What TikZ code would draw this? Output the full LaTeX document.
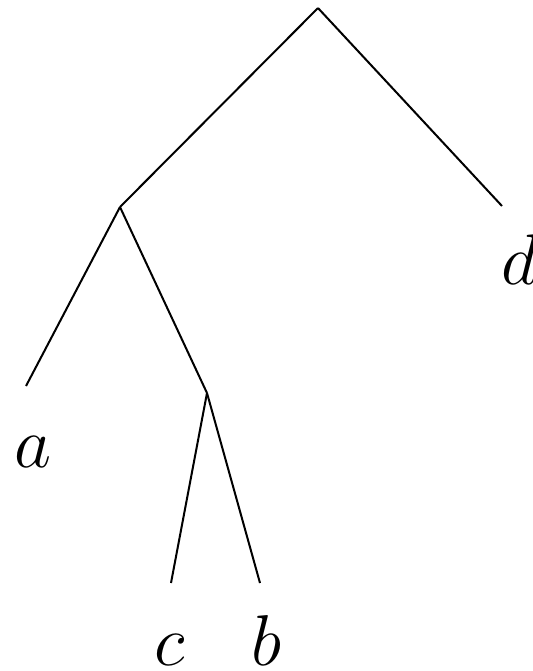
\documentclass[tikz,border=0pt]{standalone}
\begin{document}
\begin{tikzpicture}[x=0.2pt,y=-0.2pt,
  edge/.style={line width=0.4pt},
  leaf/.style={inner sep=0pt,anchor=base,font=\Large}]
\useasboundingbox (0,0) rectangle (533,671);
\coordinate (r) at (318,8);
\coordinate (l) at (120,207);
\coordinate (i) at (207,393);
\coordinate (ea) at (26,386);
\coordinate (ed) at (502,206);
\coordinate (ec) at (171,583);
\coordinate (eb) at (260,583);
\draw[edge] (r) -- (l);
\draw[edge] (r) -- (ed);
\draw[edge] (l) -- (ea);
\draw[edge] (l) -- (i);
\draw[edge] (i) -- (ec);
\draw[edge] (i) -- (eb);
\node[leaf] (a) at (33,467) {$a$};
\node[leaf] (d) at (520,284) {$d$};
\node[leaf] (c) at (170,665) {$c$};
\node[leaf] (b) at (266,665) {$b$};
\end{tikzpicture}
\end{document}
